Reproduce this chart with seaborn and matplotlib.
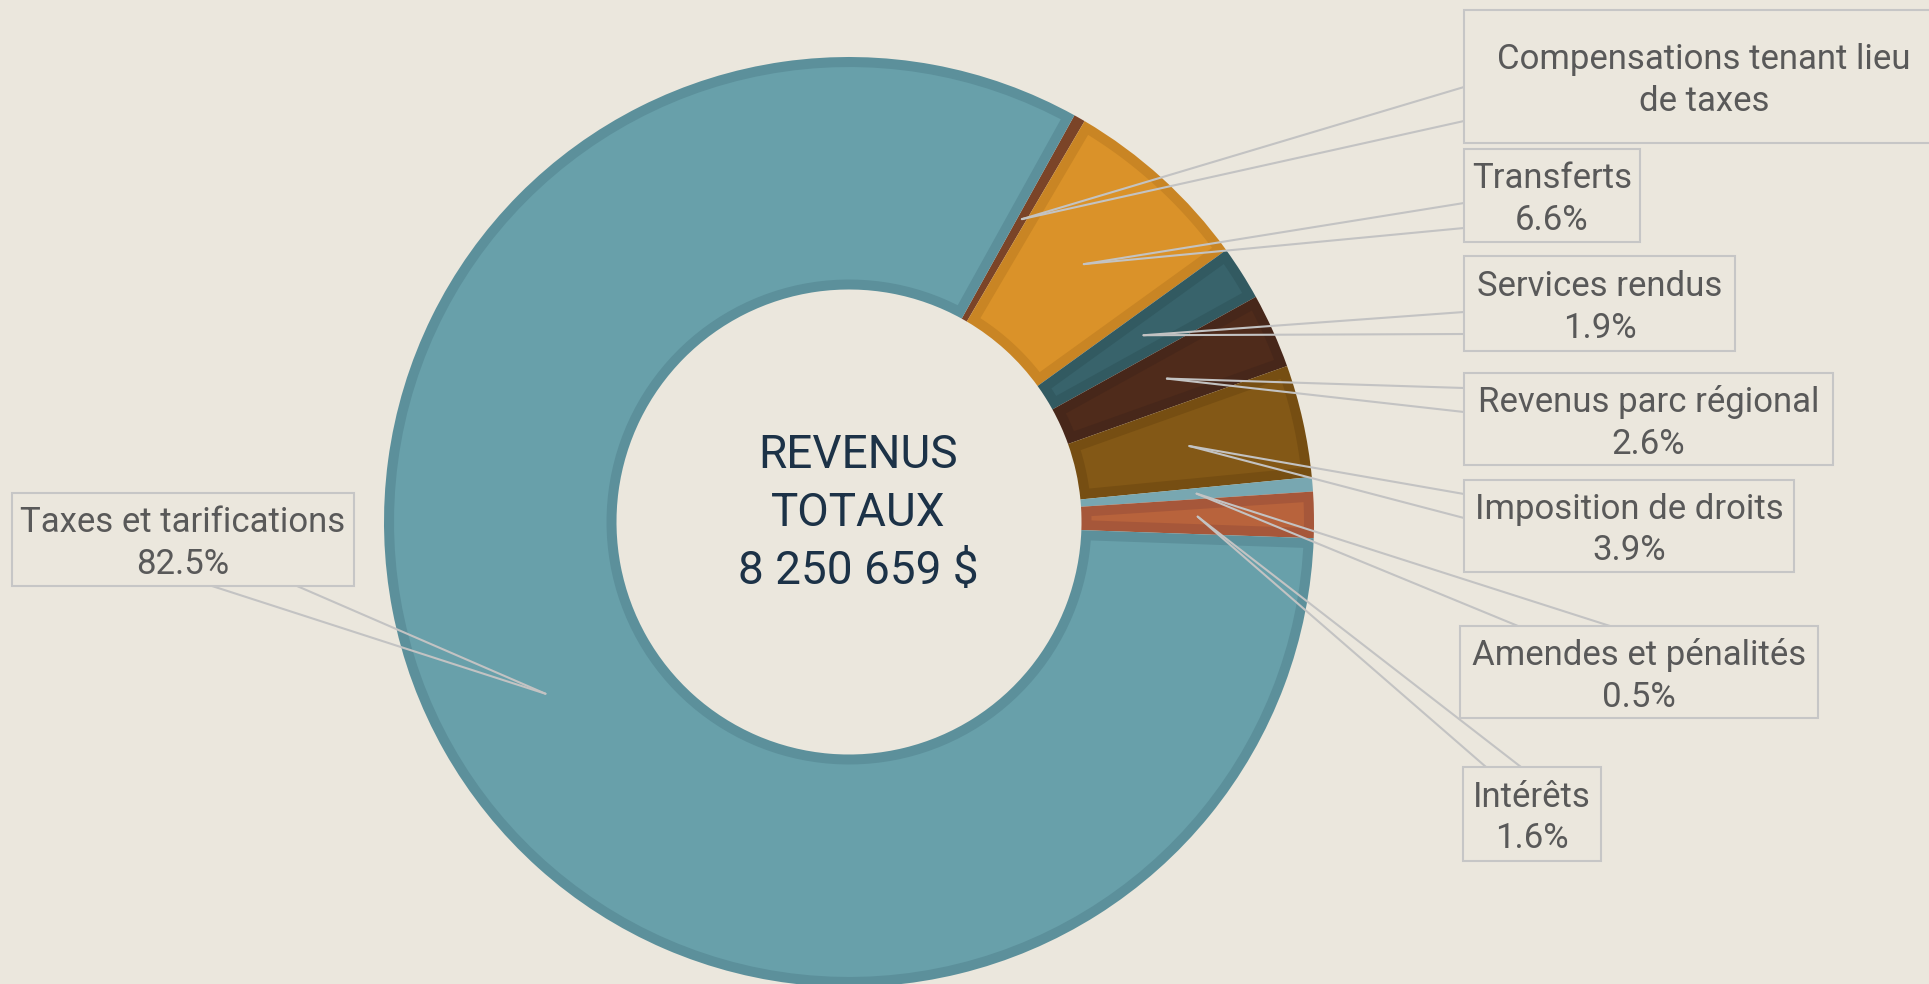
import numpy as np
import matplotlib
matplotlib.use("Agg")
import matplotlib.pyplot as plt
from matplotlib.patches import Rectangle, Polygon
import seaborn as sns

# données (part des revenus, %)
categories = ["Compensations tenant lieu de taxes", "Transferts", "Services rendus",
              "Revenus parc régional", "Imposition de droits", "Amendes et pénalités",
              "Intérêts", "Taxes et tarifications"]
box_labels = ["Compensations tenant lieu\nde taxes", "Transferts", "Services rendus",
              "Revenus parc régional", "Imposition de droits", "Amendes et pénalités",
              "Intérêts", "Taxes et tarifications"]
shares = [0.4, 6.6, 1.9, 2.6, 3.9, 0.5, 1.6, 82.5]
show_pct = [False, True, True, True, True, True, True, True]
total_label = "REVENUS\nTOTAUX\n8 250 659 $"

BG = "#ebe7dd"
fills = ["#7b4428", "#da9229", "#38636b", "#4f2b1b", "#835816", "#78a7b1", "#b8633c", "#68a0aa"]
edges = ["#7b4428", "#c98524", "#325a61", "#47271a", "#764e12", "#78a7b1", "#a6573a", "#5c909b"]

sns.set_theme(style="white")
plt.rcParams["font.family"] = ["Roboto", "DejaVu Sans"]

W, H = 1929, 984
fig = plt.figure(figsize=(W / 100, H / 100), dpi=100, facecolor=BG)
ax = fig.add_axes([0, 0, 1, 1])
ax.set_facecolor(BG)

cx, cy, R = 849, H - 522, 465
RIN = R * 0.5
BORDER = 10  # liseré intérieur plus foncé, en px

wedges, _ = ax.pie(shares, colors=edges, startangle=61, counterclock=False,
                   center=(cx, cy), radius=R, frame=True,
                   wedgeprops=dict(width=R - RIN, linewidth=0))


def inset(theta1, theta2, ri, ro, d, n=120):
    t1, t2 = np.deg2rad(theta1), np.deg2rad(theta2)
    ro2, ri2 = ro - d, ri + d
    ao, ai = np.arcsin(d / ro2), np.arcsin(d / ri2)
    if t2 - t1 <= 2 * ai:
        return None
    to = np.linspace(t1 + ao, t2 - ao, n)
    ti = np.linspace(t2 - ai, t1 + ai, n)
    xs = np.concatenate([cx + ro2 * np.cos(to), cx + ri2 * np.cos(ti)])
    ys = np.concatenate([cy + ro2 * np.sin(to), cy + ri2 * np.sin(ti)])
    return np.column_stack([xs, ys])


for w, fc in zip(wedges, fills):
    pts = inset(w.theta1, w.theta2, RIN, R, BORDER)
    if pts is not None:
        ax.add_patch(Polygon(pts, closed=True, facecolor=fc, edgecolor="none", zorder=2))

ax.set_xlim(0, W)
ax.set_ylim(0, H)
ax.set_aspect("equal")
ax.axis("off")

# boîtes d'étiquettes: gauche, haut, droite, bas (px depuis le haut)
boxes = [(1464, 10, 1944, 143), (1464, 149, 1640, 242), (1464, 256, 1735, 351),
         (1464, 373, 1833, 465), (1464, 480, 1794, 572), (1460, 626, 1818, 718),
         (1463, 767, 1601, 861), (12, 493, 354, 586)]
leader_ends = [[(1464, 87), (1464, 121)], [(1464, 203), (1464, 228)],
               [(1464, 312), (1464, 334)], [(1464, 388), (1464, 412)],
               [(1464, 494), (1464, 518)], [(1518, 626), (1610, 626)],
               [(1486, 767), (1521, 767)], [(212, 586), (297, 586)]]

for w, lab, val, pct, (l, t, r, b), ends in zip(wedges, box_labels, shares, show_pct, boxes, leader_ends):
    mid = np.deg2rad((w.theta1 + w.theta2) / 2)
    axp, ayp = cx + 0.75 * R * np.cos(mid), cy + 0.75 * R * np.sin(mid)
    for ex, ey in ends:
        ax.plot([axp, ex], [ayp, H - ey], color="#c3c3c3", lw=1.5, zorder=5,
                solid_capstyle="round")
    ax.add_patch(Rectangle((l, H - b), r - l, b - t, facecolor=BG,
                           edgecolor="#c6c6c6", lw=1.5, zorder=6))
    txt = lab + (f"\n{val:.1f}%" if pct else "")
    ax.text((l + r) / 2, H - (t + b) / 2 - 4, txt, ha="center", va="center",
            fontsize=25, color="#595959", linespacing=1.33, zorder=7)

ax.text(858, H - 513, total_label, ha="center", va="center", fontsize=33,
        color="#1c3247", linespacing=1.39, zorder=7)

fig.savefig("out.png", dpi=100, facecolor=BG)
